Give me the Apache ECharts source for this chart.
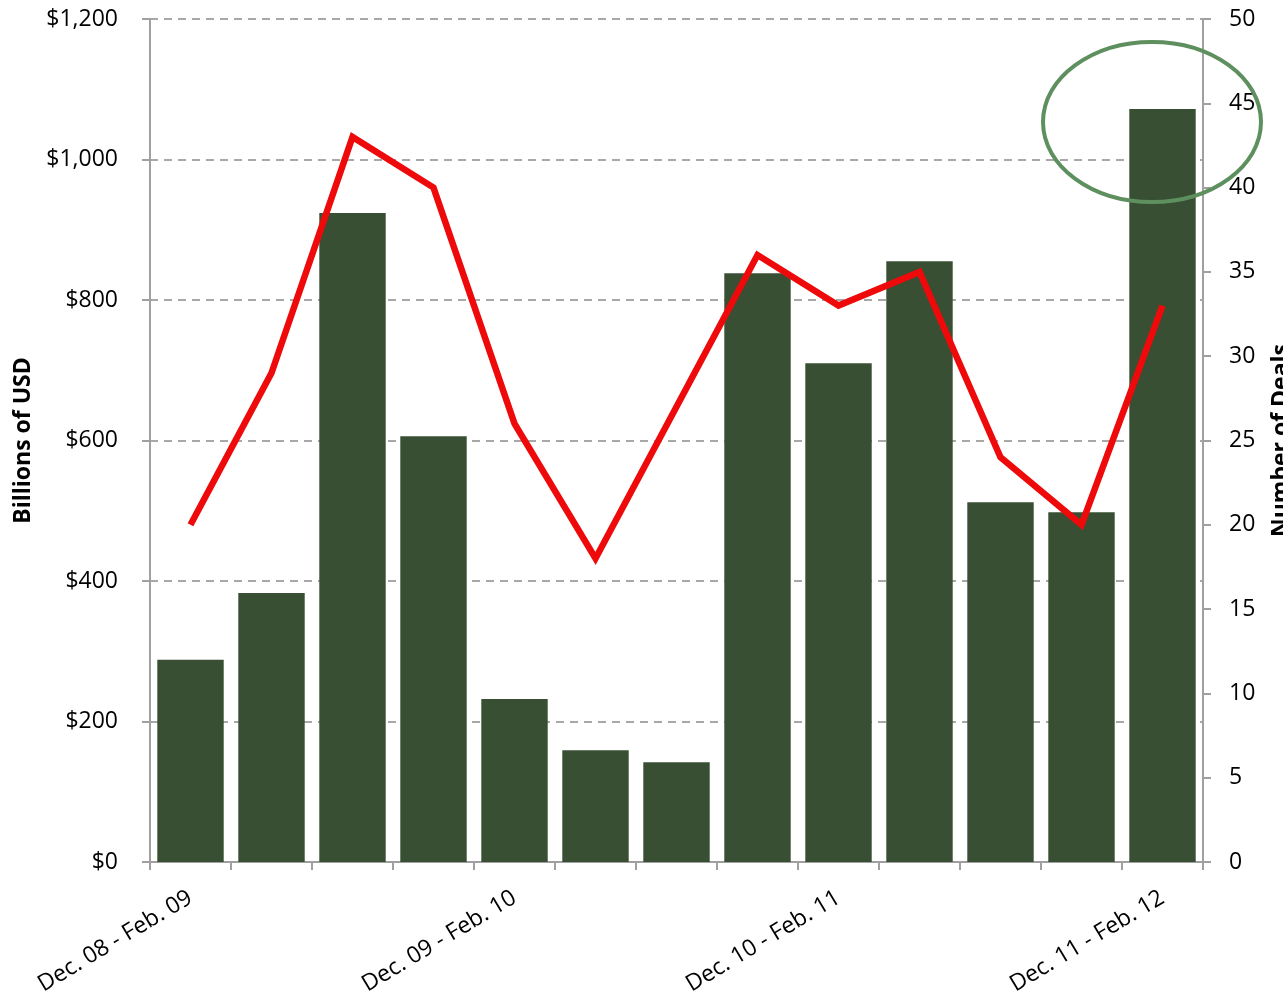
<!DOCTYPE html>
<html>
<head>
<meta charset="utf-8">
<script src="https://cdn.jsdelivr.net/npm/echarts@6/dist/echarts.min.js"></script>
<style>
  html, body { margin: 0; padding: 0; background: #fff; }
  #main { width: 1283px; height: 994px; }
</style>
</head>
<body>
<div id="main"></div>
<script>
// quarters (only every 4th one is labelled on the axis)
var categories = [
  'Dec. 08 - Feb. 09', 'Mar. 09 - May 09', 'Jun. 09 - Aug. 09', 'Sep. 09 - Nov. 09',
  'Dec. 09 - Feb. 10', 'Mar. 10 - May 10', 'Jun. 10 - Aug. 10', 'Sep. 10 - Nov. 10',
  'Dec. 10 - Feb. 11', 'Mar. 11 - May 11', 'Jun. 11 - Aug. 11', 'Sep. 11 - Nov. 11',
  'Dec. 11 - Feb. 12'
]
// deal value, billions of USD
var dealValue = [288, 383, 924, 606, 232, 159, 142, 838, 710, 855, 512, 498, 1072]
// number of deals
var dealCount = [20, 29, 43, 40, 26, 18, 27, 36, 33, 35, 24, 20, 33]

var font = '"Open Sans", sans-serif'

var chart = echarts.init(document.getElementById('main'))
var option = {
  animation: false,
  grid: { left: 150, right: 80, top: 19, bottom: 132, outerBoundsMode: 'none', containLabel: false },
  xAxis: {
    type: 'category',
    data: categories,
    boundaryGap: true,
    axisLine: { lineStyle: { color: '#a0a0a0', width: 2 } },
    axisTick: { show: true, interval: 0, length: 8, lineStyle: { color: '#a0a0a0', width: 2 } },
    axisLabel: {
      interval: 3,
      rotate: 31,
      margin: 34,
      color: '#000',
      fontSize: 23,
      fontFamily: font
    }
  },
  yAxis: [
    {
      type: 'value',
      min: 0, max: 1200, interval: 200,
      name: 'Billions of USD',
      nameLocation: 'middle',
      nameGap: 115,
      nameTextStyle: { color: '#000', fontSize: 23, fontWeight: 'bold', fontFamily: font },
      axisLine: { show: true, lineStyle: { color: '#a0a0a0', width: 2 } },
      axisTick: { show: true, length: 8, lineStyle: { color: '#a0a0a0', width: 2 } },
      axisLabel: {
        color: '#000', fontSize: 23, fontFamily: font, margin: 32,
        formatter: function (v) { return '$' + v.toLocaleString('en-US') }
      },
      splitLine: { show: true, lineStyle: { color: '#8c8c8c', type: [8, 6], width: 1.5 } }
    },
    {
      type: 'value',
      min: 0, max: 50, interval: 5,
      name: 'Number of Deals',
      nameLocation: 'middle',
      nameGap: 67,
      nameRotate: 90,
      nameTextStyle: { color: '#000', fontSize: 23, fontWeight: 'bold', fontFamily: font },
      position: 'right',
      axisLine: { show: true, lineStyle: { color: '#a0a0a0', width: 2 } },
      axisTick: { show: true, length: 8, lineStyle: { color: '#a0a0a0', width: 2 } },
      axisLabel: { color: '#000', fontSize: 23, fontFamily: font, margin: 26 },
      splitLine: { show: false }
    }
  ],
  series: [
    {
      name: 'Billions of USD',
      type: 'bar',
      data: dealValue,
      barCategoryGap: '18%',
      itemStyle: { color: '#384f33' },
      z: 2
    },
    {
      name: 'Number of Deals',
      type: 'line',
      yAxisIndex: 1,
      data: dealCount,
      symbol: 'none',
      lineStyle: { color: '#ee0a0a', width: 6.5, join: 'miter' },
      z: 3
    }
  ],
  graphic: [
    {
      type: 'ellipse',
      shape: { cx: 1152, cy: 122, rx: 109, ry: 80 },
      style: { fill: 'none', stroke: '#5e8f5e', lineWidth: 4 },
      z: 10
    }
  ]
}
chart.setOption(option)
</script>
</body>
</html>
